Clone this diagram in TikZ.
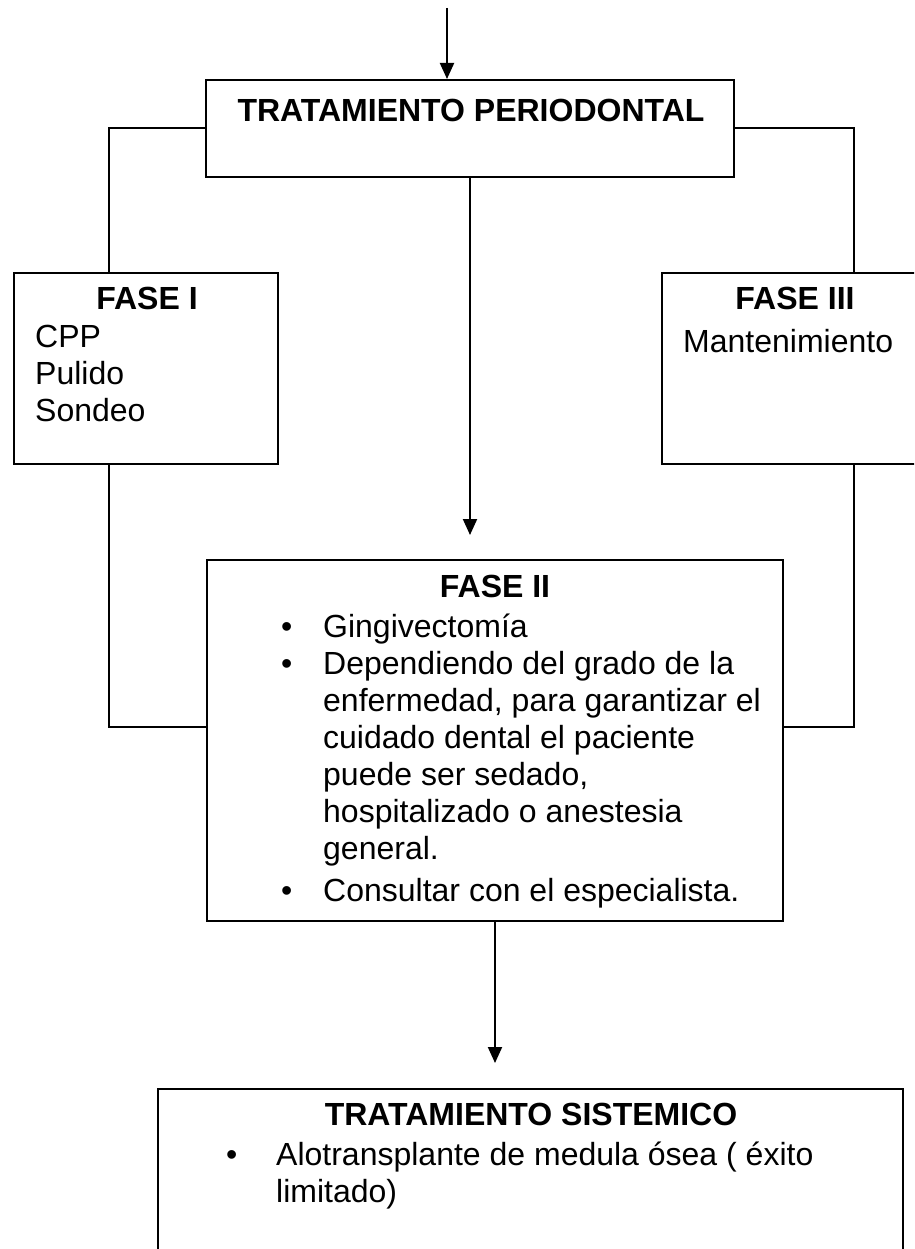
\documentclass[tikz,border=0pt]{standalone}
\usepackage{fontspec}
\setmainfont{Liberation Sans}
\usetikzlibrary{arrows.meta, positioning}

% bullet set in a column of fixed width
\newcommand{\bul}[1]{\makebox[#1][l]{\textbullet}}

\begin{document}
\begin{tikzpicture}[x=1pt, y=-1pt,
    box/.style={draw, line width=2pt, rectangle, inner sep=0pt, anchor=north west},
    ttl/.style={font=\fontsize{32}{37}\selectfont\bfseries, anchor=base, inner sep=0pt},
    txt/.style={font=\fontsize{32}{37}\selectfont, anchor=base west, inner sep=0pt},
    conn/.style={line width=2pt},
    arr/.style={conn, -{Triangle[length=16pt, width=14pt]}},
  ]
    \clip (0,0) rectangle (914,1249);

    % boxes
    \node[box, minimum width=528pt, minimum height=97pt]  (per)  at (205,79)   {};
    \node[box, minimum width=264pt, minimum height=191pt] (f1)   at (13,272)   {};
    \node[box, minimum width=290pt, minimum height=191pt] (f3)   at (661,272)  {};
    \node[box, minimum width=576pt, minimum height=361pt] (f2)   at (206,559)  {};
    \node[box, minimum width=745pt, minimum height=220pt] (sist) at (157,1088) {};

    % texts
    \node[ttl] (perT) at (471,122) {TRATAMIENTO PERIODONTAL};
    \node[ttl] (f1T) at (147,309) {FASE I};
    \node[txt] (f1L) at (35,347)
      {\begin{tabular}[t]{@{}l@{}}CPP\\Pulido\\Sondeo\end{tabular}};
    \node[ttl] (f3T) at (795,309) {FASE III};
    \node[txt] (f3L) at (683,352) {Mantenimiento};
    \node[ttl] (f2T) at (495,597) {FASE II};
    \node[txt] (f2L) at (281,637)
      {\begin{tabular}[t]{@{}l@{}}
        \bul{42pt}Gingivectomía\\
        \bul{42pt}Dependiendo del grado de la\\
        \hspace*{42pt}enfermedad, para garantizar el\\
        \hspace*{42pt}cuidado dental el paciente\\
        \hspace*{42pt}puede ser sedado,\\
        \hspace*{42pt}hospitalizado o anestesia\\
        \hspace*{42pt}general.\\[5pt]
        \bul{42pt}Consultar con el especialista.
      \end{tabular}};
    \node[ttl] (sistT) at (531,1125) {TRATAMIENTO SISTEMICO};
    \node[txt] (sistL) at (226,1165)
      {\begin{tabular}[t]{@{}l@{}}
        \bul{50pt}Alotransplante de medula ósea ( éxito\\
        \hspace*{50pt}limitado)
      \end{tabular}};

    % connectors
    \coordinate (in) at (447,8);
    \coordinate (lx) at (109,0);
    \coordinate (rx) at (854,0);
    \coordinate (my) at (0,727);
    \draw[arr] (in) -- (in |- per.north);
    \draw[conn] (per.west) -| (lx |- f1.north);
    \draw[conn] (per.east) -| (rx |- f3.north);
    \draw[arr, shorten >=24pt] (per.south) -- (per.south |- f2.north);
    \draw[conn] (lx |- f1.south) |- (f2.west |- my);
    \draw[conn] (rx |- f3.south) |- (f2.east |- my);
    \draw[arr, shorten >=25pt] (f2.south) -- (f2.south |- sist.north);
\end{tikzpicture}
\end{document}
